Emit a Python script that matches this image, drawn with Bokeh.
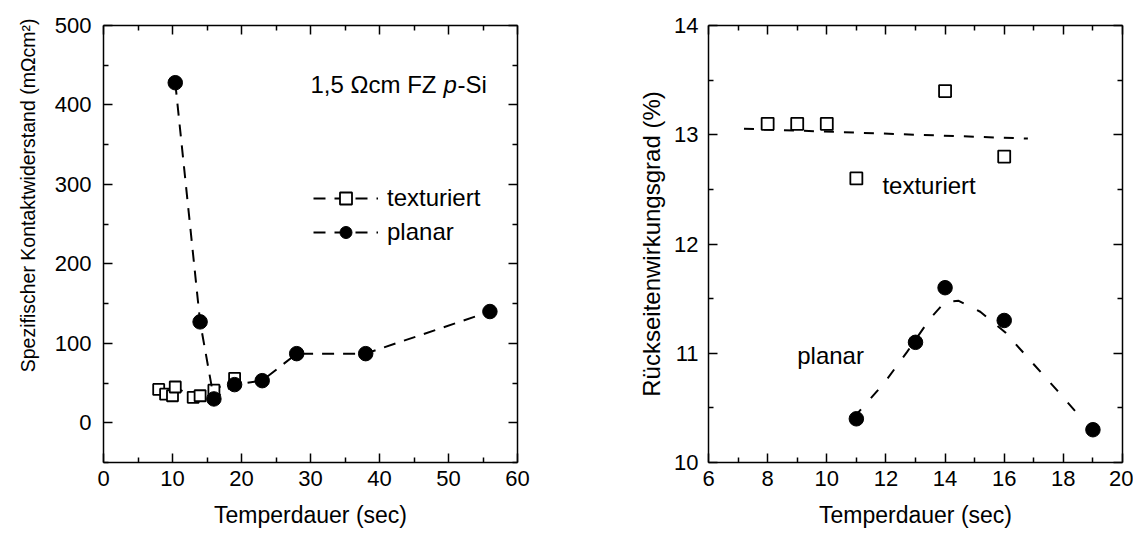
import math
from bokeh.plotting import figure
from bokeh.layouts import row
from bokeh.models import (FixedTicker, LinearAxis, Label, Legend, LegendItem,
                          Range1d, CustomJSTickFormatter, Title)
from bokeh.embed import file_html
from bokeh.resources import INLINE

FONT = "Liberation Sans"

# ---------------- data ----------------
x_title = "Temperdauer (sec)"
left_y_title = "Spezifischer Kontaktwiderstand (mΩcm²)"
right_y_title = "Rückseitenwirkungsgrad (%)"

left_xticks = [0, 10, 20, 30, 40, 50, 60]
left_xminor = [5, 15, 25, 35, 45, 55]
left_yticks = [0, 100, 200, 300, 400, 500]
left_yminor = [-50, 50, 150, 250, 350, 450]

right_xticks = [6, 8, 10, 12, 14, 16, 18, 20]
right_xminor = [7, 9, 11, 13, 15, 17, 19]
right_yticks = [10, 11, 12, 13, 14]
right_yminor = [10.5, 11.5, 12.5, 13.5]

left_tex_x = [8, 9, 10, 10.4, 13, 14, 16, 19]
left_tex_y = [42, 36, 34, 45, 32, 34, 41, 56]
left_planar_x = [10.4, 14, 16, 19, 23, 28, 38, 56]
left_planar_y = [428, 127, 30, 48, 53, 87, 87, 140]

right_tex_x = [8, 9, 10, 11, 14, 16]
right_tex_y = [13.1, 13.1, 13.1, 12.6, 13.4, 12.8]
right_fit_x = [7.2, 16.8]
right_fit_y = [13.055, 12.965]

right_planar_x = [11, 13, 14, 16, 19]
right_planar_y = [10.4, 11.1, 11.6, 11.3, 10.3]
right_curve_x = [10.91, 11.92, 12.71, 13.50, 14.0, 14.46, 15.19, 16.04, 16.83, 17.79, 18.69]
right_curve_y = [10.41, 10.72, 11.01, 11.32, 11.47, 11.48, 11.38, 11.19, 10.95, 10.66, 10.38]

labels_series = ["texturiert", "planar"]
note_parts = ["1,5 Ωcm FZ", "p", "-Si"]

FIG_H = 532
TOP = 25
BOTTOM = 70


def style_axis(ax, ticks, minor, show_labels=True):
    ax.ticker = FixedTicker(ticks=ticks, minor_ticks=minor)
    ax.major_tick_in = 9
    ax.major_tick_out = 0
    ax.minor_tick_in = 5
    ax.minor_tick_out = 0
    ax.axis_line_width = 1.5
    ax.axis_line_color = "black"
    ax.major_tick_line_width = 1.5
    ax.minor_tick_line_width = 1.5
    ax.major_tick_line_color = "black"
    ax.minor_tick_line_color = "black"
    ax.major_label_text_font = FONT
    ax.major_label_text_color = "black"
    ax.axis_label_text_font = FONT
    ax.axis_label_text_font_size = "23px"
    ax.axis_label_text_font_style = "normal"
    ax.axis_label_text_color = "black"
    if show_labels:
        ax.major_label_text_font_size = "22px"
    else:
        ax.formatter = CustomJSTickFormatter(code="return ''")
        ax.major_label_text_font_size = "1px"
        ax.major_label_standoff = 0


def make_fig(width, xr, yr, bl, br, xt, xm, yt, ym):
    p = figure(width=width, height=FIG_H, output_backend="svg", toolbar_location=None,
               x_range=Range1d(*xr), y_range=Range1d(*yr),
               min_border_left=bl, min_border_right=br, min_border_top=TOP,
               min_border_bottom=BOTTOM)
    p.grid.visible = False
    p.outline_line_color = None
    p.background_fill_color = "white"
    p.border_fill_color = "white"
    style_axis(p.xaxis[0], xt, xm)
    style_axis(p.yaxis[0], yt, ym)
    p.xaxis[0].major_label_standoff = 8
    p.xaxis[0].axis_label_standoff = 13
    p.xaxis[0].axis_label = x_title
    top = LinearAxis()
    style_axis(top, xt, xm, show_labels=False)
    p.add_layout(top, "above")
    rgt = LinearAxis()
    style_axis(rgt, yt, ym, show_labels=False)
    p.add_layout(rgt, "right")
    return p


# ---------------- left plot ----------------
p1 = make_fig(562, (0, 60), (-50, 500), 103, 45,
              left_xticks, left_xminor, left_yticks, left_yminor)
p1.yaxis[0].major_label_standoff = 12

r_tl = p1.line(left_tex_x, left_tex_y, line_color="black", line_width=2, line_dash="12 9")
r_tp = p1.scatter(left_tex_x, left_tex_y, marker="square", size=11, fill_color="white",
                  line_color="black", line_width=1.8)
r_pl = p1.line(left_planar_x, left_planar_y, line_color="black", line_width=2, line_dash="12 9")
r_pp = p1.scatter(left_planar_x, left_planar_y, marker="circle", size=14.5, fill_color="black",
                  line_color="black")

legend = Legend(items=[LegendItem(label=labels_series[0], renderers=[r_tl, r_tp]),
                       LegendItem(label=labels_series[1], renderers=[r_pl, r_pp])],
                location=(210, 215))
legend.border_line_color = None
legend.background_fill_alpha = 0
legend.padding = 0
legend.margin = 0
legend.spacing = 4
legend.glyph_width = 65
legend.glyph_height = 30
legend.label_height = 30
legend.label_standoff = 9
legend.label_text_font = FONT
legend.label_text_font_size = "24px"
legend.label_text_color = "black"
p1.add_layout(legend)

ytitle = Title(text=left_y_title, align="right", offset=-7, standoff=26,
               text_font=FONT, text_font_size="19.5px", text_font_style="normal",
               text_color="black")
p1.add_layout(ytitle, "left")

note_offsets = [0, 133, 147]
note_styles = ["normal", "italic", "normal"]
for part, off, st in zip(note_parts, note_offsets, note_styles):
    p1.add_layout(Label(x=30, y=426, x_offset=off, text=part, text_align="left",
                        text_baseline="alphabetic", text_font=FONT, text_font_size="24px",
                        text_font_style=st, text_color="black"))

# ---------------- right plot ----------------
p2 = make_fig(571, (6, 20), (10, 14), 146, 11,
              right_xticks, right_xminor, right_yticks, right_yminor)
p2.yaxis[0].major_label_standoff = 10
p2.yaxis[0].axis_label = right_y_title
p2.yaxis[0].axis_label_text_font_size = "24px"
p2.yaxis[0].axis_label_standoff = 6

p2.line(right_fit_x, right_fit_y, line_color="black", line_width=2, line_dash="10 10")
p2.scatter(right_tex_x, right_tex_y, marker="square", size=12, fill_color="white",
           line_color="black", line_width=1.8)
p2.line(right_curve_x, right_curve_y, line_color="black", line_width=2, line_dash="11 15")
p2.scatter(right_planar_x, right_planar_y, marker="circle", size=14.5, fill_color="black",
           line_color="black")

p2.add_layout(Label(x=11.88, y=12.533, text=labels_series[0], text_align="left",
                    text_baseline="alphabetic", text_font=FONT, text_font_size="24px",
                    text_color="black"))
p2.add_layout(Label(x=9.0, y=10.98, text=labels_series[1], text_align="left",
                    text_baseline="alphabetic", text_font=FONT, text_font_size="24px",
                    text_color="black"))

layout = row(p1, p2)
open("out.html", "w").write(file_html(layout, INLINE))
